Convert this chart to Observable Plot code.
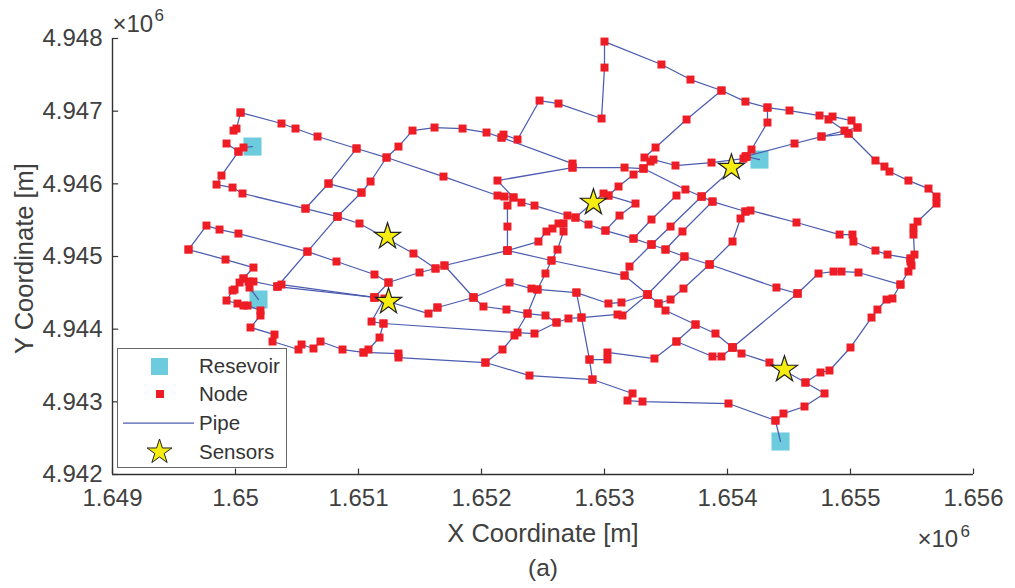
<!DOCTYPE html>
<html>
<head>
<meta charset="utf-8">
<script src="https://cdn.jsdelivr.net/npm/d3@7"></script>
<script src="https://cdn.jsdelivr.net/npm/@observablehq/plot@0.6"></script>
<style>
html,body{margin:0;padding:0;background:#fff}
#wrap{position:relative;width:1015px;height:588px;font-family:"Liberation Sans",Arial,sans-serif}
#legend{position:absolute;left:117px;top:348px;width:168px;height:118px;background:#fff;border:1.5px solid #666;box-sizing:content-box}
#legend svg{position:absolute;left:0;top:0}
</style>
</head>
<body>
<div id="wrap"></div>
<script>
// Offsets in metres from the origin of the coordinate system below
const originX = 1649000, originY = 4942000;
const xTicks = [1649000,1650000,1651000,1652000,1653000,1654000,1655000,1656000];
const yTicks = [4942000,4943000,4944000,4945000,4946000,4947000,4948000];

const reservoirs = [[1138,4513],[1187,2408],[5260,4334],[5431,454]];
const sensors = [[3910,3743],[2236,3275],[2244,2380],[5032,4224],[5463,1445]];

const pipes = [
[[1041,4981],[1374,4830],[1488,4761],[1667,4651],[1984,4486],[2228,4362],[2691,4100],[3130,3839],[3187,3825],[3260,3812],[3325,3743],[3431,3701],[3699,3564],[3764,3536],[3870,3440],[4008,3357],[4236,3247],[4382,3165],[4496,3096],[4650,3000],[4854,2890],[5398,2573],[5569,2491]],
[[5569,2491],[5740,2766],[5862,2793],[5927,2793],[6065,2780],[6406,2614]],
[[1041,4981],[1008,4761],[984,4733]],
[[927,4555],[1024,4444],[1065,4500],[1138,4513]],
[[1024,4444],[886,4114],[846,3990],[976,3949],[1057,3867],[1569,3660],[1829,3550],[2008,3454],[2447,3041],[2626,2835]],
[[618,3096],[764,3426],[870,3371],[1024,3316],[1585,3068],[1821,2931],[2130,2752],[2244,2642],[2496,2780],[2626,2835],[2699,2876],[3211,3082]],
[[618,3096],[919,2958],[1146,2848],[1065,2697],[1033,2642],[992,2546],[976,2532],[927,2394],[1016,2353],[1065,2325],[1098,2325],[1203,2257],[1203,2188],[1122,2023],[1317,1926],[1301,1830],[1512,1720],[1537,1789],[1634,1734],[1691,1830],[1870,1720],[2041,1679],[2325,1665],[2325,1610],[3032,1541],[3390,1362],[3902,1307],[4228,1115],[4187,1018],[4309,1004],[5008,977],[5390,743],[5455,839],[5626,936],[5789,1115],[5634,1266]],
[[1065,2697],[1106,2656],[1146,2656],[1341,2587],[1374,2614],[2130,2436]],
[[1341,2587],[2130,2436]],
[[1114,2573],[1187,2408]],
[[1829,3550],[1585,3068],[1341,2587]],
[[1829,3550],[2024,3880],[2098,4032],[2228,4362],[2325,4513],[2439,4733],[2618,4775],[2846,4761],[3041,4706],[3163,4637],[3179,4678],[3293,4610],[3472,5146],[3626,5105],[3976,4899],[4000,5600],[4000,5958],[4463,5642],[4699,5435],[4951,5284],[5146,5132],[5325,5050],[5504,5009],[5748,4940],[5854,4926],[6008,4871],[6057,4775]],
[[1569,3660],[1756,4004],[1984,4486]],
[[1756,4004],[2024,3880]],
[[3163,4637],[3740,4279],[3740,4224],[4163,4224],[4317,4211],[4658,3922],[4789,3825],[4878,3756],[5146,3619],[5187,3633],[5561,3468],[5911,3302],[6016,3302],[6024,3206],[6203,3082],[6301,3027],[6488,2972],[6520,3027],[6512,3302],[6512,3399],[6545,3481],[6699,3729],[6699,3825],[6634,3935],[6471,4045],[6317,4169],[6276,4238],[6203,4321],[5984,4692],[5951,4733],[5821,4885]],
[[6488,2972],[6488,2931],[6496,2876],[6471,2793],[6406,2614],[6341,2422],[6293,2408],[6219,2270],[6171,2160],[6000,1748],[5829,1431],[5756,1404],[5634,1266],[5341,1541],[5114,1665],[5041,1748]],
[[5146,4376],[5545,4555],[5764,4651],[6057,4775]],
[[5764,4651],[5984,4692]],
[[4398,4334],[4577,4252],[4870,4293],[5130,4348],[5154,4376],[5260,4334]],
[[5154,4376],[5195,4472],[5325,4844],[5325,5050]],
[[4951,5284],[4667,4885],[4415,4500],[4325,4362],[4374,4307],[4317,4211]],
[[5154,4376],[4789,3825]],
[[4317,4211],[4236,4128],[4114,3963],[4032,3839],[3992,3867],[3764,3536]],
[[4032,3839],[4252,3729],[4122,3564],[4008,3357]],
[[4236,3247],[4382,3509],[4585,3839]],
[[4382,3165],[4537,3412],[4789,3825]],
[[4496,3096],[4634,3344],[4878,3756]],
[[4854,2890],[5041,3206],[5106,3523],[5146,3619]],
[[4382,3165],[4203,2862],[4163,2738],[4350,2477],[4439,2353],[4496,2257],[4740,2064],[4902,1940],[5041,1748]],
[[4163,2738],[3569,2945],[3211,3082]],
[[4439,2353],[4537,2408],[4642,2559],[4854,2890]],
[[4350,2477],[4650,3000]],
[[2935,2436],[3016,2312],[3203,2270],[3374,2215],[3520,2188],[3610,2092],[3707,2147],[3813,2160],[4106,2202],[4146,2188],[4350,2477]],
[[2642,2298],[2935,2436],[3228,2642],[3406,2559],[3455,2546],[3772,2504],[4032,2353],[4138,2367],[4350,2477]],
[[2699,2876],[2935,2436]],
[[2130,2436],[2569,2215],[2642,2298]],
[[2244,2642],[2130,2436]],
[[2211,2422],[2106,2105],[2203,2078],[2171,1885],[2081,1720],[2041,1679]],
[[2203,2078],[3293,1954],[3431,1940],[3610,2092]],
[[3211,3082],[3463,3206],[3528,3344],[3577,3385],[3626,3454],[3667,3454],[3667,3344],[3618,3096],[3569,2945],[3520,2766],[3455,2546],[3374,2215],[3268,1913],[3171,1720],[3032,1541]],
[[3211,3082],[3211,3412],[3211,3701],[3260,3812],[3130,4045],[3740,4224]],
[[3772,2504],[3813,2160],[3878,1582],[3902,1307]],
[[3878,1582],[4024,1582],[4024,1679],[4406,1596],[4585,1830],[4740,2064]],
[[4585,1830],[4878,1624],[4951,1624],[5041,1748]],
[[5041,1748],[5569,2491]],
[[5390,743],[5431,454]]
];

const isReservoir = (p) => reservoirs.some(r => r[0] === p[0] && r[1] === p[1]);
const pipeRows = pipes.flatMap((p, i) => p.map(([dx, dy]) => ({pipe: i, dx, dy, x: originX + dx, y: originY + dy})));
const nodeRows = pipeRows.filter(d => !isReservoir([d.dx, d.dy]));
const toRow = ([dx, dy]) => ({x: originX + dx, y: originY + dy});

const axisColor = "#404040";
const chart = Plot.plot({
  width: 1015, height: 588,
  marginLeft: 112, marginRight: 42, marginTop: 38, marginBottom: 114,
  style: {fontFamily: '"Liberation Sans",Arial,sans-serif', background: "#fff", overflow: "visible"},
  x: {domain: [1649000, 1656000], ticks: xTicks, label: null},
  y: {domain: [4942000, 4948000], ticks: yTicks, label: null},
  marks: [
    Plot.dot(reservoirs.map(toRow), {x: "x", y: "y", symbol: "square", r: 10.2, fill: "#6ccbdc", stroke: "none"}),
    Plot.line(pipeRows, {x: "x", y: "y", z: "pipe", stroke: "#4c5cb0", strokeWidth: 1.25, curve: "linear"}),
    Plot.dot(nodeRows, {x: "x", y: "y", symbol: "square", r: 4.5, fill: "#ee1c25", stroke: "none"}),
    Plot.dot(sensors.map(toRow), {x: "x", y: "y", symbol: "star", r: 8.2, fill: "#f5ec10", stroke: "#222", strokeWidth: 1.2}),
    Plot.axisX({ticks: xTicks, tickSize: 0, tickPadding: 14, tickFormat: d => String(d / 1e6), fontSize: 24, color: axisColor, label: null}),
    Plot.axisY({ticks: yTicks, tickSize: 0, tickPadding: 10, tickFormat: d => String(d / 1e6), fontSize: 24, color: axisColor, label: null}),
    Plot.ruleX(xTicks, {x: d => d, y1: 4942000, y2: 4942075, stroke: "#333", strokeWidth: 1.2}),
    Plot.ruleY(yTicks, {y: d => d, x1: 1649000, x2: 1649050, stroke: "#333", strokeWidth: 1.2}),
    Plot.ruleX([1649000], {stroke: "#333", strokeWidth: 1.4}),
    Plot.ruleY([4942000], {stroke: "#333", strokeWidth: 1.4}),
    Plot.text(["X Coordinate [m]"], {frameAnchor: "bottom", dy: 67, fontSize: 25.5, fill: axisColor}),
    Plot.text(["Y Coordinate [m]"], {frameAnchor: "left", textAnchor: "middle", dx: -88, dy: 2, rotate: -90, fontSize: 25.5, fill: axisColor}),
    Plot.text(["(a)"], {frameAnchor: "bottom", dy: 101, fontSize: 24.5, fill: axisColor}),
    Plot.text(["\u00d710"], {frameAnchor: "top-left", dy: -24, dx: 0, textAnchor: "start", fontSize: 24, fill: axisColor}),
    Plot.text(["6"], {frameAnchor: "top-left", dy: -30, dx: 42, textAnchor: "start", fontSize: 17, fill: axisColor}),
    Plot.text(["\u00d710"], {frameAnchor: "bottom-right", dy: 72, dx: -56, textAnchor: "start", fontSize: 24, fill: axisColor}),
    Plot.text(["6"], {frameAnchor: "bottom-right", dy: 62, dx: -13, textAnchor: "start", fontSize: 17, fill: axisColor})
  ]
});
const wrap = document.getElementById("wrap");
wrap.appendChild(chart);

// Legend box, placed over the lower-left corner of the plot
const legendLabels = ["Resevoir", "Node", "Pipe", "Sensors"];
const legend = document.createElement("div");
legend.id = "legend";
const ns = "http://www.w3.org/2000/svg";
const svg = d3.select(legend).append(() => document.createElementNS(ns, "svg")).attr("width", 168).attr("height", 118);
const rowY = [17, 45, 74, 103];
svg.append("rect").attr("x", 33).attr("y", rowY[0] - 8).attr("width", 17).attr("height", 17).attr("fill", "#6ccbdc");
svg.append("rect").attr("x", 38).attr("y", rowY[1] - 4).attr("width", 8).attr("height", 8).attr("fill", "#ee1c25");
svg.append("line").attr("x1", 5).attr("x2", 76).attr("y1", rowY[2]).attr("y2", rowY[2]).attr("stroke", "#4c5cb0").attr("stroke-width", 1.25);
svg.append("path").attr("d", d3.symbol(d3.symbolStar, 190)()).attr("transform", `translate(41.5,${rowY[3]})`).attr("fill", "#f5ec10").attr("stroke", "#222").attr("stroke-width", 1);
legendLabels.forEach((t, i) => svg.append("text").attr("x", 81).attr("y", rowY[i] + 7).attr("font-size", 20.5).attr("fill", "#333").text(t));
wrap.appendChild(legend);
</script>
</body>
</html>
